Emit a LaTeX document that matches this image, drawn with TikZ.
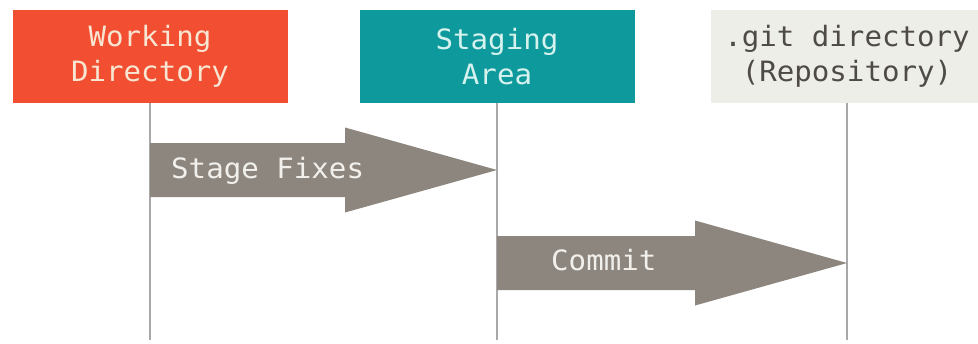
\documentclass[tikz,border=0pt]{standalone}
\usepackage{fontspec}
\setmonofont[FakeStretch=1.04]{DejaVu Sans Mono}
\usetikzlibrary{calc}

\definecolor{gitorange}{HTML}{F14E32}
\definecolor{gitteal}{HTML}{0E9A9C}
\definecolor{gitlight}{HTML}{EEEEE8}
\definecolor{orangetext}{HTML}{F8E6D2}
\definecolor{tealtext}{HTML}{D6F2EE}
\definecolor{repotext}{HTML}{4E4B47}
\definecolor{arrowgray}{HTML}{8C867E}
\definecolor{arrowtext}{HTML}{F2F0EC}
\definecolor{linegray}{HTML}{A8A8A8}

% fat arrow from a lifeline point to another one
\newcommand{\fatarrow}[2]{%
  \fill[fatarrow] ($(#1)+(0,-27)$) -- ($(#2)+(-152,-27)$) -- ($(#2)+(-152,-42.5)$)
    -- (#2) -- ($(#2)+(-152,42.5)$) -- ($(#2)+(-152,27)$) -- ($(#1)+(0,27)$) -- cycle;}

\begin{document}
\begin{tikzpicture}[x=1pt,y=-1pt,
    area/.style={shape=rectangle,minimum width=275,minimum height=93,inner sep=0,
      align=center,font=\ttfamily\fontsize{28}{35}\selectfont},
    lifeline/.style={draw=linegray,line width=2pt},
    fatarrow/.style={fill=arrowgray},
    arrowlabel/.style={anchor=base west,inner sep=0,text=arrowtext,
      font=\ttfamily\fontsize{28}{35}\selectfont}]
	\useasboundingbox (0,0) rectangle (978,343);

	    \node[area,fill=gitorange,text=orangetext] (work) at (150,56.5) {Working\\Directory};
	    \node[area,fill=gitteal,text=tealtext] (stage) at (497,56.5) {Staging\\Area};
	    \node[area,fill=gitlight,text=repotext,minimum width=272] (repo) at (847,56.5) {.git directory\\(Repository)};

	    \coordinate (workEnd) at (150,340);
	    \coordinate (stageEnd) at (497,340);
	    \coordinate (repoEnd) at (847,340);

	    \draw[lifeline] (work.south) -- (workEnd);
	    \draw[lifeline] (stage.south) -- (stageEnd);
	    \draw[lifeline] (repo.south) -- (repoEnd);

	    \coordinate (fixFrom) at (150,170);
	    \coordinate (fixTo) at (497,170);
	    \coordinate (commitFrom) at (497,263);
	    \coordinate (commitTo) at (847,263);

	    \fatarrow{fixFrom}{fixTo}
	    \fatarrow{commitFrom}{commitTo}

	    \node[arrowlabel] (fixLabel) at (171,178) {Stage Fixes};
	    \node[arrowlabel] (commitLabel) at (551,270) {Commit};
	\end{tikzpicture}
\end{document}
